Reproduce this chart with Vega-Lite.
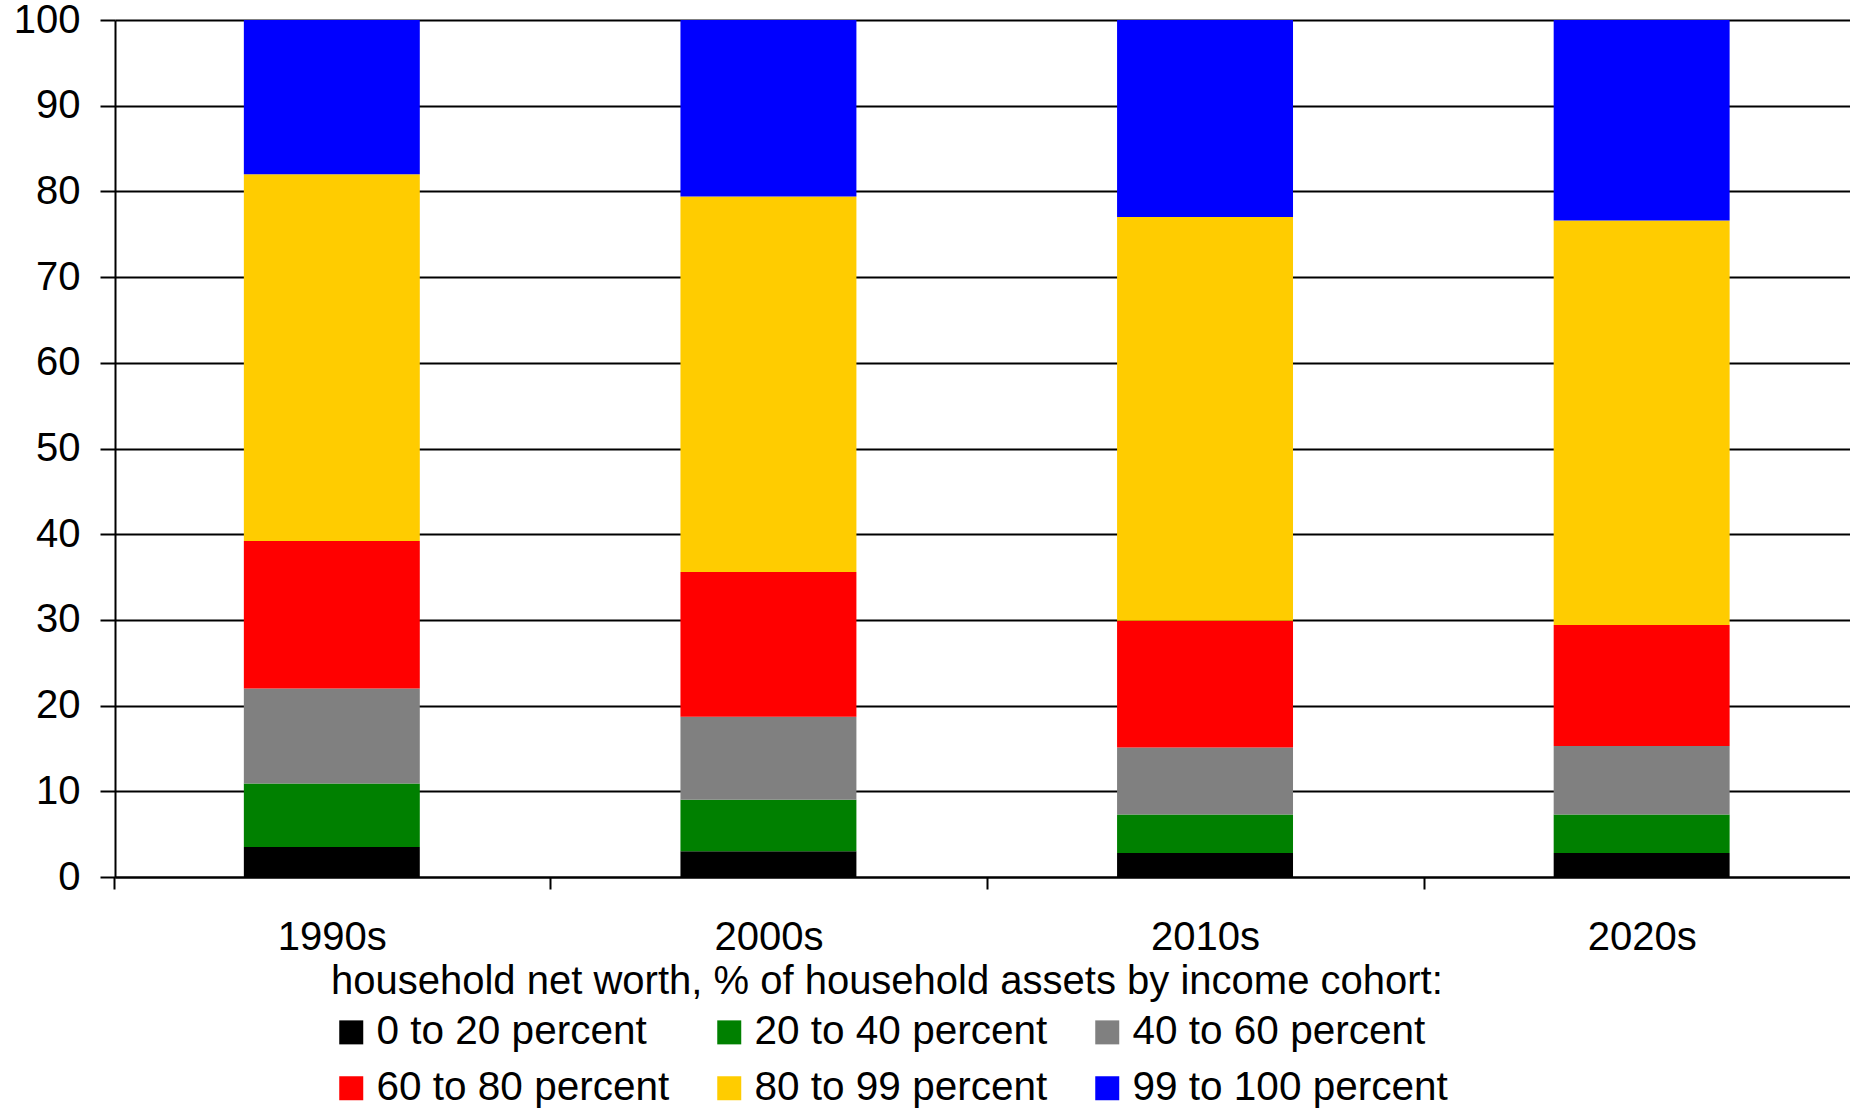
{
  "$schema": "https://vega.github.io/schema/vega-lite/v6.json",
  "autosize": {"type": "none"},
  "padding": {"left": 115, "top": 20, "right": 0, "bottom": 231},
  "width": 1735,
  "height": 857,
  "background": "white",
  "config": {
    "view": {"stroke": null},
    "font": "Liberation Sans"
  },
  "data": {
    "values": [
      {"decade": "1990s", "cohort": "0 to 20 percent", "share": 3.5},
      {"decade": "1990s", "cohort": "20 to 40 percent", "share": 7.4},
      {"decade": "1990s", "cohort": "40 to 60 percent", "share": 11.1},
      {"decade": "1990s", "cohort": "60 to 80 percent", "share": 17.2},
      {"decade": "1990s", "cohort": "80 to 99 percent", "share": 42.8},
      {"decade": "1990s", "cohort": "99 to 100 percent", "share": 18.0},
      {"decade": "2000s", "cohort": "0 to 20 percent", "share": 3.0},
      {"decade": "2000s", "cohort": "20 to 40 percent", "share": 6.0},
      {"decade": "2000s", "cohort": "40 to 60 percent", "share": 9.7},
      {"decade": "2000s", "cohort": "60 to 80 percent", "share": 16.9},
      {"decade": "2000s", "cohort": "80 to 99 percent", "share": 43.8},
      {"decade": "2000s", "cohort": "99 to 100 percent", "share": 20.6},
      {"decade": "2010s", "cohort": "0 to 20 percent", "share": 2.8},
      {"decade": "2010s", "cohort": "20 to 40 percent", "share": 4.5},
      {"decade": "2010s", "cohort": "40 to 60 percent", "share": 7.8},
      {"decade": "2010s", "cohort": "60 to 80 percent", "share": 14.8},
      {"decade": "2010s", "cohort": "80 to 99 percent", "share": 47.1},
      {"decade": "2010s", "cohort": "99 to 100 percent", "share": 23.0},
      {"decade": "2020s", "cohort": "0 to 20 percent", "share": 2.8},
      {"decade": "2020s", "cohort": "20 to 40 percent", "share": 4.5},
      {"decade": "2020s", "cohort": "40 to 60 percent", "share": 8.0},
      {"decade": "2020s", "cohort": "60 to 80 percent", "share": 14.1},
      {"decade": "2020s", "cohort": "80 to 99 percent", "share": 47.2},
      {"decade": "2020s", "cohort": "99 to 100 percent", "share": 23.4}
    ]
  },
  "mark": {"type": "bar"},
  "encoding": {
    "x": {
      "field": "decade",
      "type": "nominal",
      "sort": ["1990s", "2000s", "2010s", "2020s"],
      "scale": {"paddingInner": 0.597, "paddingOuter": 0.2854, "align": 0.517},
      "axis": {
        "title": null,
        "labelAngle": 0,
        "labelFont": "Liberation Sans",
        "labelFontSize": 40,
        "labelColor": "black",
        "labelPadding": 28,
        "tickOffset": -218,
        "labelOffset": 218,
        "tickSize": 12,
        "tickColor": "black",
        "tickWidth": 2,
        "domainColor": "black",
        "domainWidth": 2,
        "grid": false
      }
    },
    "y": {
      "field": "share",
      "type": "quantitative",
      "stack": "zero",
      "scale": {"domain": [0, 100], "nice": false},
      "axis": {
        "title": null,
        "values": [0, 10, 20, 30, 40, 50, 60, 70, 80, 90, 100],
        "labelFont": "Liberation Sans",
        "labelFontSize": 40,
        "labelColor": "black",
        "labelPadding": 20,
        "tickSize": 15,
        "tickColor": "black",
        "tickWidth": 2,
        "domainColor": "black",
        "domainWidth": 2,
        "grid": true,
        "gridColor": "black",
        "gridWidth": 2,
        "gridOpacity": 1
      }
    },
    "order": {"field": "cohort", "type": "nominal", "sort": "ascending"},
    "color": {
      "field": "cohort",
      "type": "nominal",
      "scale": {
        "domain": ["0 to 20 percent", "20 to 40 percent", "40 to 60 percent", "60 to 80 percent", "80 to 99 percent", "99 to 100 percent"],
        "range": ["#000000", "#008000", "#808080", "#FF0000", "#FFCC00", "#0000FF"]
      },
      "legend": {
        "title": "household net worth, % of household assets by income cohort:",
        "orient": "none",
        "legendX": 216,
        "legendY": 942,
        "direction": "horizontal",
        "columns": 3,
        "padding": 0,
        "titleFont": "Liberation Sans",
        "titleFontSize": 40,
        "titleFontWeight": "normal",
        "titleColor": "black",
        "titleLimit": 2000,
        "titlePadding": 10,
        "labelFont": "Liberation Sans",
        "labelFontSize": 40.5,
        "labelColor": "black",
        "labelLimit": 600,
        "labelOffset": 5,
        "symbolType": "square",
        "symbolSize": 576,
        "symbolStrokeWidth": 0,
        "symbolOpacity": 1,
        "columnPadding": 39,
        "rowPadding": 15
      }
    }
  }
}
